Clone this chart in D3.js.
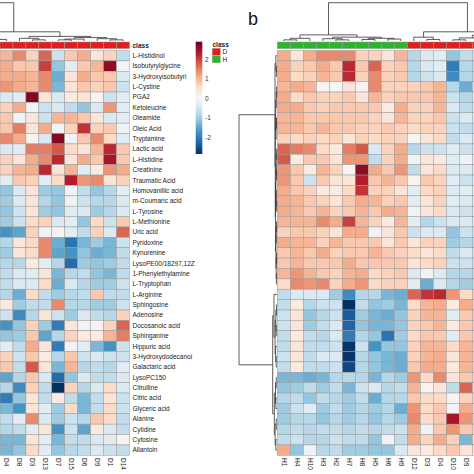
<!DOCTYPE html>
<html><head><meta charset="utf-8">
<script src="https://cdn.jsdelivr.net/npm/d3@7"></script>
<style>body{margin:0;background:#fff}svg{display:block}text{font-family:"Liberation Sans",Arial,sans-serif}</style>
</head><body><svg id="c" width="474" height="474"></svg>
<script>
// ---------------- data ----------------
const metabolites = ["L-Histidinol","Isobutyrylglycine","3-Hydroxyisobutyri","L-Cystine","PGA2","Ketoleucine","Oleamide","Oleic Acid","Tryptamine","Lactic acid","L-Histidine","Creatinine","Traumatic Acid","Homovanillic acid","m-Coumaric acid","L-Tyrosine","L-Methionine","Uric acid","Pyridoxine","Kynurenine","LysoPE00/18297,12Z","1-Phenylethylamine","L-Tryptophan","L-Arginine","Sphingosine","Adenosine","Docosanoic acid","Sphinganine","Hippuric acid","3-Hydroxydodecanoi","Galactaric acid","LysoPC150","Citrulline","Citric acid","Glyceric acid","Alanine","Cytidine","Cytosine","Allantoin"];
const leftSamples = ["D4","D8","D3","D13","D7","D15","D6","D9","D1","D14"];
const leftClass = ["D","D","D","D","D","D","D","D","D","D"];
const rightSamples = ["H1","H4","H10","H3","H2","H7","H8","H5","H6","H9","D12","D3","D4","D10","D9","D2"];
const rightClass = ["H","H","H","H","H","H","H","H","H","H","D","D","D","D","D","D"];
const classLevels = ["D","H"];
const classColors = ["#E51B1E","#2BB52B"];
const legendTicks = [2,1,0,-1,-2];
const legendRange = [-2.85, 2.9];
const panelLetter = "b";

const leftValues = [
[1.0,1.4,0.7,1.7,-0.6,0.8,1.1,0.4,0.7,-0.7],
[1.1,0.8,0.8,2.0,-1.1,-0.3,0.8,1.0,2.6,-0.1],
[1.1,1.1,1.0,1.4,-1.4,0.4,1.1,0.8,0.8,-0.4],
[1.3,1.1,1.0,1.4,-1.3,0.4,0.8,0.7,0.8,-0.6],
[-0.4,-0.3,2.7,0.4,-0.4,0.3,0.4,0.1,-0.6,-0.3],
[0.7,1.1,-0.1,-0.6,-0.4,-0.7,-1.1,-0.4,1.3,-0.3],
[0.8,-0.1,0.4,-0.6,1.0,1.0,0.8,0.4,-0.4,-0.3],
[0.8,1.5,0.4,1.1,-0.1,0.7,2.1,0.7,0.8,-0.1],
[1.4,1.1,0.1,-0.4,2.7,-0.1,0.8,1.4,0.6,-0.3],
[-0.4,-0.3,1.5,1.5,1.8,0.6,0.4,1.0,2.2,0.8],
[0.7,0.4,1.1,1.4,2.2,0.4,1.1,0.8,2.4,0.8],
[0.7,1.0,1.1,2.2,0.4,1.0,-0.3,0.3,1.3,1.1],
[-0.3,0.8,0.7,-0.3,0.6,2.3,1.3,1.4,0.4,0.7],
[-1.1,-0.4,0.4,-1.0,-1.1,-0.1,-0.7,-1.1,-0.8,-0.3],
[-1.0,-0.4,0.4,-0.8,-1.1,-0.1,-0.6,-0.8,-0.8,-0.4],
[-1.1,-0.6,0.4,-1.0,-1.1,-0.3,-0.4,-1.0,-0.8,-0.4],
[-1.0,-0.6,0.6,0.7,-0.4,-0.3,-1.1,0.6,-0.6,0.8],
[-1.7,-1.5,0.7,-0.1,0.1,-0.3,-0.7,0.7,-0.4,1.7],
[-0.8,0.4,0.6,1.4,-1.4,-2.1,-1.3,-1.0,-1.3,-0.6],
[-1.0,0.4,0.6,1.4,-1.5,-1.7,-1.1,-1.4,-1.3,-0.7],
[-0.8,-0.8,0.3,-0.3,-0.8,-2.2,-1.0,-1.1,-1.0,-0.7],
[-0.7,-0.4,-0.3,0.4,-1.3,-0.8,-0.7,-1.1,-1.3,-0.7],
[-0.7,-0.4,-0.4,0.6,-1.4,-0.4,-0.8,-1.0,-1.0,-0.6],
[-0.8,-1.4,0.6,-0.7,-1.0,-0.8,-0.7,0.8,-0.7,-0.7],
[0.3,-1.0,-0.7,-0.7,1.4,-0.8,-0.8,-1.0,-1.0,-0.6],
[-0.6,-1.8,-0.8,0.4,-0.6,-1.0,-0.4,-0.7,-0.8,0.7],
[-1.7,-1.1,0.7,-1.0,-2.0,0.4,-0.1,0.1,0.7,1.7],
[-1.1,-1.0,0.8,-1.5,-0.8,0.7,0.3,0.3,1.0,1.5],
[-0.3,-0.7,1.1,0.4,-2.0,-0.1,-0.3,-1.3,-1.7,-0.6],
[0.7,-0.6,0.8,0.3,-0.8,0.8,-0.6,-0.4,-0.6,-0.6],
[0.8,-0.7,1.8,0.4,-1.3,1.0,-0.8,-0.7,-0.8,-0.3],
[-1.5,-0.8,0.8,-0.4,-2.2,-1.1,-0.4,-0.7,-0.7,-0.4],
[-0.8,-1.8,0.7,-0.7,-2.85,0.7,-0.8,-0.4,0.6,-0.4],
[-2.0,-1.1,0.4,-0.7,0.3,-0.7,-1.3,-0.7,0.4,-0.6],
[-1.3,-1.7,0.4,-0.3,-1.0,0.6,-1.3,-0.7,0.6,-0.6],
[-0.7,-0.3,1.4,-0.4,-1.0,-0.6,-0.8,0.8,0.6,-0.7],
[-0.8,-0.7,-0.3,0.4,-1.7,-0.6,-1.5,0.3,-0.4,-0.7],
[-1.3,-1.3,0.4,-0.3,-1.3,-0.7,-0.7,-0.4,-0.3,0.1],
[-1.3,-1.1,0.6,-0.3,-1.1,-0.8,-0.7,-0.4,-0.6,-0.7]
];

const rightValues = [
[1.1,0.4,1.1,1.4,1.4,1.4,0.7,0.7,0.4,1.0,-0.8,-0.4,-0.3,-1.1,-0.7,-0.6],
[1.1,0.7,0.8,1.1,0.8,2.2,0.8,1.7,0.7,0.8,-0.8,-0.4,-0.3,-2.0,-0.8,-0.7],
[1.1,0.6,0.7,1.0,0.8,2.2,0.7,1.4,0.7,0.8,-0.8,-0.6,-0.4,-1.8,-0.8,-0.7],
[1.0,1.1,1.0,0.1,0.0,0.4,0.1,1.4,0.7,0.7,0.7,0.8,1.0,-0.8,-1.4,-0.6],
[1.1,0.6,0.8,0.7,0.7,0.8,0.4,1.0,0.7,0.8,0.8,0.8,1.0,-0.6,-0.8,-0.4],
[1.1,1.1,0.8,0.7,0.8,0.8,0.8,0.8,0.3,1.1,0.7,0.7,1.0,-0.4,-0.7,-0.4],
[1.0,1.0,0.8,0.8,0.8,0.8,0.8,0.7,0.4,1.0,0.7,0.7,0.8,-0.6,-0.4,-0.4],
[1.0,1.0,0.8,1.0,0.8,0.8,0.7,0.7,0.8,0.7,0.6,0.7,0.7,-0.6,-0.7,-0.6],
[0.7,0.6,0.7,0.6,0.7,0.4,0.7,0.6,0.7,0.7,0.0,0.4,0.6,-0.7,-0.4,-0.4],
[1.7,1.5,1.4,0.6,0.3,1.5,1.8,-0.4,0.7,1.1,-0.8,-0.6,-0.6,-0.3,-0.6,-0.4],
[1.8,0.3,0.8,0.8,0.4,1.3,1.3,-0.7,0.7,1.1,-0.1,0.4,0.3,-0.3,-0.1,-0.3],
[1.3,0.8,0.3,1.0,0.7,0.1,2.6,1.1,0.8,1.3,-0.7,0.4,0.6,-0.4,-0.4,-0.4],
[1.3,0.8,-0.6,0.8,0.4,0.4,2.3,0.8,1.0,0.8,0.1,0.8,0.7,-0.3,-0.6,-0.4],
[1.1,0.8,0.7,0.3,0.3,0.6,2.1,0.7,0.7,0.4,-0.3,0.6,0.7,-0.4,-0.3,-0.3],
[1.1,1.0,0.8,0.7,0.4,0.8,1.1,1.0,0.7,0.8,-0.3,0.4,0.7,-0.3,-0.4,-0.4],
[1.1,1.0,0.8,1.0,0.7,0.8,1.0,0.8,1.1,1.0,-0.1,0.4,0.6,-0.4,-0.6,-0.4],
[1.0,1.0,1.0,1.4,1.1,2.0,1.0,0.7,0.3,1.0,-0.3,-0.8,-0.6,-0.4,-0.4,-0.4],
[0.7,0.8,0.8,0.7,0.4,1.1,1.1,-0.1,0.4,0.8,-0.6,-0.4,-0.4,-1.1,-0.6,-0.6],
[1.1,1.0,1.0,0.7,1.0,0.8,0.8,0.8,0.4,0.8,0.4,0.7,0.7,-1.0,-0.8,-0.7],
[0.8,1.0,0.8,1.1,0.7,0.8,0.8,1.0,0.8,0.7,0.6,0.4,0.6,-0.7,-0.4,-0.6],
[0.8,1.0,0.8,0.8,0.8,1.1,0.8,0.8,0.8,0.8,0.4,0.6,0.7,-0.6,-0.6,-0.6],
[1.0,1.3,1.0,0.8,0.7,1.0,1.1,0.6,0.7,0.8,-0.4,-0.1,-0.4,-0.8,-0.8,-0.7],
[0.6,1.4,1.3,1.4,0.7,1.1,1.3,0.6,0.7,0.7,-0.3,-1.4,-0.4,-0.8,-1.0,-0.7],
[-0.7,-0.4,-0.4,-0.4,-1.0,-1.8,-0.8,-0.8,-1.3,-1.4,1.7,2.1,2.2,1.3,0.6,0.8],
[-0.7,0.3,-0.8,-0.6,-0.6,-2.85,-0.7,-1.1,-1.0,-1.3,0.6,1.0,1.1,0.3,1.1,0.8],
[-0.6,0.4,-1.1,-0.8,-0.6,-2.4,-1.0,-1.3,-1.4,-1.1,0.7,1.0,1.0,-0.3,0.8,0.8],
[-0.6,0.4,-1.0,-0.7,-0.4,-2.3,-1.1,-1.3,-1.3,-1.1,0.7,0.8,1.0,0.3,0.8,0.8],
[-0.7,0.3,-0.7,-0.8,-0.4,-2.0,-0.8,-1.1,-2.1,-1.0,0.6,0.8,0.8,-0.3,0.8,0.7],
[-0.7,0.4,-0.7,-0.7,-0.6,-2.8,-0.6,-1.7,-1.1,-1.1,0.7,1.0,1.0,0.6,1.0,0.8],
[-0.6,0.4,-0.7,-0.4,-0.4,-2.8,-0.8,-1.1,-1.3,-1.4,0.7,1.0,1.1,0.4,1.0,0.8],
[-0.7,0.3,-0.7,-0.7,-0.6,-2.6,-0.8,-1.1,-1.3,-1.4,0.8,1.1,1.1,0.3,1.0,0.8],
[-1.3,-1.3,-1.4,-1.3,-0.8,-0.8,-0.8,-1.3,-0.8,-1.0,1.3,0.6,1.4,0.4,0.8,0.7],
[-1.1,-1.0,-0.7,-1.0,-0.7,-1.3,-0.6,-0.4,-0.8,-0.7,1.0,0.1,0.4,-0.7,1.7,0.7],
[-0.8,-0.7,-1.1,-0.7,-0.8,-1.0,-0.7,-1.4,-0.8,-0.8,0.8,0.6,0.6,0.1,0.7,0.7],
[-1.0,-0.6,-0.3,-1.0,-0.7,-1.0,-0.8,-1.0,-0.8,-1.4,1.3,0.6,0.8,-0.1,1.1,0.7],
[-1.0,-0.8,-0.8,-1.1,-0.8,-1.0,-0.8,-1.1,-0.8,-1.0,1.4,0.6,0.8,2.4,1.3,0.8],
[-0.8,-0.7,-0.8,-0.7,-0.7,-0.8,-0.7,-0.8,-0.7,-0.6,1.1,-0.1,0.8,1.3,0.8,0.7],
[-0.7,-0.6,-0.8,-0.8,-0.6,-0.7,-0.7,-1.1,-0.1,-0.7,1.1,0.7,1.1,0.7,-1.3,0.6],
[1.1,-1.1,-0.1,-0.8,-0.7,-1.0,-1.0,-1.1,-1.1,-0.4,0.4,0.3,0.6,0.8,0.4,0.4]
];

// dendrograms: [height, left, right]; leaves are column/row indices (negative / >= length = samples outside the crop)
const leftColTree = [1.0, -14, [0.24,
  [0.15, [0.05,-5,-4], [0.06,[0.03,-3,-2],[0.04,-1,0]]],
  [0.12, [0.07, 1, [0.03,2,3]], [0.09, [0.05,[0.03,4,5],6], [0.06,7,[0.03,8,9]]]]]];
const rightColTree = [1.0,
  [0.16, [0.07,[0.03,0,1],2], [0.1,[0.06,3,[0.03,4,5]],[0.07,[0.04,6,7],[0.05,8,9]]]],
  [0.24, [0.1,10,[0.04,11,12]], [0.15,[0.08,[0.03,13,14],[0.04,15,16]],[0.1,[0.06,[0.03,17,18],[0.04,19,20]],[0.07,[0.03,21,22],[0.05,23,24]]]]]];
const rightRowTree = [1.0,
  [0.053, [0.03,0,[0.015,1,2]],
    [0.045, [0.035,[0.02,[0.01,3,4],5],[0.025,[0.012,6,7],8]],
      [0.04, [0.03,[0.02,[0.01,9,10],[0.012,11,12]],[0.018,13,[0.01,14,15]]],
             [0.028,[0.02,[0.012,16,17],18],[0.022,[0.01,19,20],[0.015,21,22]]]]]],
  [0.113, [0.08,23,[0.05,[0.03,[0.015,24,25],[0.02,26,27]],[0.035,28,[0.02,29,30]]]],
    [0.07,[0.04,[0.02,31,32],[0.03,33,34]],[0.05,[0.02,35,36],[0.03,37,38]]]]];

// ---------------- drawing ----------------
const W = 474;
const svg = d3.select("#c");
const nRows = metabolites.length;
const palette = d3.schemeRdBu[11].slice().reverse();
const color = d3.scaleLinear()
  .domain(d3.range(11).map(i => legendRange[0] + i * (legendRange[1] - legendRange[0]) / 10))
  .range(palette).interpolate(d3.interpolateRgb).clamp(true);
const y = d3.scaleLinear().domain([0, nRows]).range([50.5, 455.3]);
const rowH = y(1) - y(0);
const xL = d3.scaleLinear().domain([0, leftSamples.length]).range([0, 129.5]);
const xR = d3.scaleLinear().domain([0, 15]).range([277.3, 472.3]);
const classColor = d3.scaleOrdinal().domain(classLevels).range(classColors);
const gridStroke = "#9a9a9a";

function heat(x, values, samples, classes) {
  const g = svg.append("g");
  values.forEach((row, r) => row.forEach((v, c) => {
    g.append("rect").attr("x", x(c)).attr("y", y(r)).attr("width", x(c+1)-x(c)).attr("height", rowH)
      .attr("fill", color(v)).attr("stroke", gridStroke).attr("stroke-width", 0.5);
  }));
  classes.forEach((k, c) => {
    g.append("rect").attr("x", x(c)).attr("y", 42).attr("width", x(c+1)-x(c)).attr("height", 6.6)
      .attr("fill", classColor(k)).attr("stroke", gridStroke).attr("stroke-width", 0.5);
  });
  samples.forEach((s, c) => {
    const cx = (x(c) + x(c+1)) / 2;
    if (cx + 4 > W) return; // label lies outside the cropped figure
    g.append("text").attr("transform", `translate(${cx},458) rotate(90)`)
      .attr("dy", "0.35em").attr("font-size", 6.5).attr("fill", "#222").text(s);
  });
}
heat(xL, leftValues, leftSamples, leftClass);
heat(xR, rightValues, rightSamples, rightClass);

// row labels (left panel)
svg.append("g").selectAll("text").data(metabolites).join("text")
  .attr("x", 132.5).attr("y", (d, i) => y(i) + rowH/2).attr("dy", "0.35em")
  .attr("font-size", 6.5).attr("fill", "#222").text(d => d);
svg.append("text").attr("x", 132.5).attr("y", 45.3).attr("dy", "0.35em")
  .attr("font-size", 6.5).attr("font-weight", "bold").attr("fill", "#222").text("class");

// dendrograms
function drawTree(tree, posOf, hScale, vertical) {
  const g = svg.append("g").attr("fill", "none").attr("stroke", "#333").attr("stroke-width", 0.8);
  const pt = (p, h) => vertical ? [p, hScale(h)] : [hScale(h), p];
  function rec(n) {
    if (typeof n === "number") return {p: posOf(n), h: 0};
    const a = rec(n[1]), b = rec(n[2]), h = n[0];
    const path = d3.path();
    path.moveTo(...pt(a.p, a.h)); path.lineTo(...pt(a.p, h));
    path.lineTo(...pt(b.p, h)); path.lineTo(...pt(b.p, b.h));
    g.append("path").attr("d", path.toString());
    return {p: (a.p + b.p) / 2, h};
  }
  rec(tree);
}
const colH = d3.scaleLinear().domain([0, 1]).range([41, 2.7]);
drawTree(leftColTree, i => (xL(i) + xL(i+1)) / 2, colH, true);
drawTree(rightColTree, i => (xR(i) + xR(i+1)) / 2, colH, true);
const rowHs = d3.scaleLinear().domain([0, 1]).range([277, 239]);
drawTree(rightRowTree, i => y(i) + rowH/2, rowHs, false);

// colour legend
const defs = svg.append("defs");
const grad = defs.append("linearGradient").attr("id", "lg").attr("x1", 0).attr("x2", 0).attr("y1", 1).attr("y2", 0);
d3.range(0, 1.0001, 0.05).forEach(t => {
  grad.append("stop").attr("offset", t).attr("stop-color", color(legendRange[0] + t*(legendRange[1]-legendRange[0])));
});
const ly = d3.scaleLinear().domain(legendRange).range([154, 41.7]);
svg.append("rect").attr("x", 195.7).attr("y", ly(legendRange[1])).attr("width", 6.6)
  .attr("height", ly(legendRange[0]) - ly(legendRange[1])).attr("fill", "url(#lg)");
svg.append("g").selectAll("text").data(legendTicks).join("text")
  .attr("x", 205).attr("y", d => ly(d)).attr("dy", "0.35em").attr("font-size", 6.5).attr("fill", "#333")
  .text(d => d < 0 ? "-" + Math.abs(d) : d);

// class legend
svg.append("text").attr("x", 212.5).attr("y", 44.5).attr("dy", "0.35em").attr("font-size", 6.5)
  .attr("font-weight", "bold").attr("fill", "#222").text("class");
classLevels.forEach((k, i) => {
  svg.append("rect").attr("x", 212.3).attr("y", 48.3 + i*7.6).attr("width", 8).attr("height", 7)
    .attr("fill", classColor(k)).attr("stroke", "#999").attr("stroke-width", 0.4);
  svg.append("text").attr("x", 222.5).attr("y", 51.8 + i*7.6).attr("dy", "0.35em").attr("font-size", 6.5)
    .attr("fill", "#222").text(k);
});

// panel letter
svg.append("text").attr("x", 248).attr("y", 24.5).attr("font-size", 18)
  .attr("font-family", "'Liberation Serif','Times New Roman',serif").attr("fill", "#111").text(panelLetter);
</script></body></html>
